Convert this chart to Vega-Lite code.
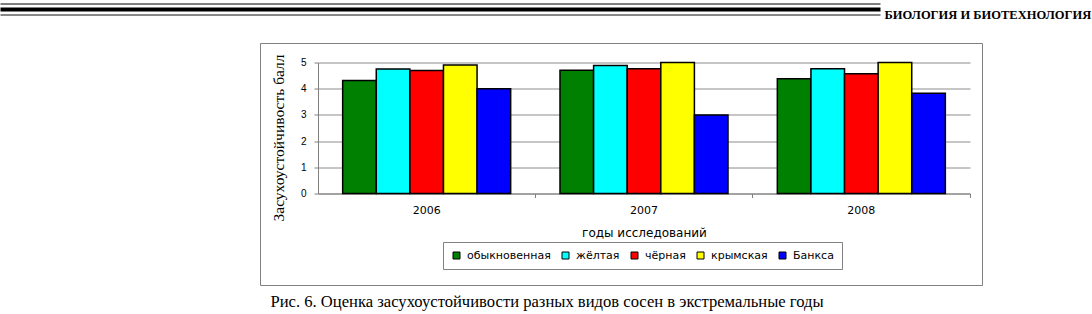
{
  "$schema": "https://vega.github.io/schema/vega-lite/v6.json",
  "width": 652,
  "height": 131,
  "autosize": {"type": "none"},
  "padding": {"left": 318, "top": 62.5, "right": 122, "bottom": 120.5},
  "background": "white",
  "config": {"view": {"stroke": null}, "axis": {"labelColor": "#000", "titleColor": "#000"}},
  "datasets": {
    "pines": [
      {"year": "2006", "species": "обыкновенная", "score": 4.31},
      {"year": "2006", "species": "жёлтая", "score": 4.75},
      {"year": "2006", "species": "чёрная", "score": 4.69},
      {"year": "2006", "species": "крымская", "score": 4.9},
      {"year": "2006", "species": "Банкса", "score": 4.0},
      {"year": "2007", "species": "обыкновенная", "score": 4.7},
      {"year": "2007", "species": "жёлтая", "score": 4.89},
      {"year": "2007", "species": "чёрная", "score": 4.76},
      {"year": "2007", "species": "крымская", "score": 5.0},
      {"year": "2007", "species": "Банкса", "score": 3.0},
      {"year": "2008", "species": "обыкновенная", "score": 4.38},
      {"year": "2008", "species": "жёлтая", "score": 4.76},
      {"year": "2008", "species": "чёрная", "score": 4.57},
      {"year": "2008", "species": "крымская", "score": 5.0},
      {"year": "2008", "species": "Банкса", "score": 3.83}
    ],
    "frame": [{"part": "frame"}]
  },
  "resolve": {
    "scale": {"x": "independent", "y": "independent"},
    "axis": {"x": "independent", "y": "independent"}
  },
  "layer": [
    {
      "data": {"name": "pines"},
      "mark": {"type": "bar", "stroke": "#000", "strokeWidth": 1.5},
      "encoding": {
        "x": {
          "field": "year", "type": "nominal",
          "scale": {"type": "band", "paddingInner": 0.227, "paddingOuter": 0.1135},
          "axis": {
            "orient": "bottom", "labelAngle": 0, "labelFont": "DejaVu Sans", "labelFontSize": 11,
            "labelPadding": 11, "ticks": false, "tickSize": 0, "grid": false,
            "domainColor": "#808080", "domainWidth": 1,
            "title": "годы исследований", "titleFont": "DejaVu Sans", "titleFontSize": 12,
            "titleFontWeight": "normal", "titleY": 42.5, "titleBaseline": "alphabetic"
          }
        },
        "xOffset": {
          "field": "species", "type": "nominal",
          "sort": ["обыкновенная", "жёлтая", "чёрная", "крымская", "Банкса"],
          "scale": {"paddingInner": 0, "paddingOuter": 0}
        },
        "y": {
          "field": "score", "type": "quantitative",
          "scale": {"domain": [0, 5], "nice": false},
          "axis": {
            "orient": "left", "values": [0, 1, 2, 3, 4, 5], "grid": true, "gridColor": "#8c8c8c",
            "domainColor": "#808080", "tickColor": "#808080", "tickSize": 4,
            "labelFont": "Liberation Sans", "labelFontSize": 10, "labelPadding": 8,
            "title": "Засухоустойчивость балл", "titleFont": "Liberation Serif", "titleFontSize": 15.5,
            "titleFontWeight": "normal", "titleX": -35, "titleY": 75, "titleAlign": "center",
            "titleBaseline": "alphabetic", "titleAngle": 270
          }
        },
        "color": {
          "field": "species", "type": "nominal",
          "scale": {
            "domain": ["обыкновенная", "жёлтая", "чёрная", "крымская", "Банкса"],
            "range": ["#008000", "#00ffff", "#ff0000", "#ffff00", "#0000ff"]
          },
          "legend": {
            "orient": "none", "legendX": 125, "legendY": 179.5, "direction": "horizontal",
            "title": null, "symbolType": "square", "symbolSize": 49,
            "symbolStrokeColor": "#000", "symbolStrokeWidth": 1,
            "labelFont": "DejaVu Sans", "labelFontSize": 11, "labelColor": "#000",
            "labelOffset": 5, "columnPadding": 9, "padding": 8,
            "strokeColor": "#808080", "fillColor": "white"
          }
        }
      }
    },
    {
      "data": {"name": "pines"},
      "mark": {"type": "point", "opacity": 0},
      "encoding": {
        "x": {
          "field": "year", "type": "nominal",
          "scale": {"type": "band", "paddingInner": 0, "paddingOuter": 0},
          "axis": {
            "orient": "bottom", "bandPosition": 1, "labels": false, "domain": false, "grid": false,
            "ticks": true, "tickSize": 4, "tickColor": "#808080",
            "title": "Рис. 6. Оценка засухоустойчивости разных видов сосен в экстремальные годы",
            "titleFont": "Liberation Serif", "titleFontSize": 16.6, "titleFontWeight": "normal",
            "titleX": -48, "titleY": 112.5, "titleAlign": "left", "titleAnchor": "start",
            "titleBaseline": "alphabetic"
          }
        }
      }
    },
    {
      "data": {"name": "frame"},
      "mark": {"type": "point", "opacity": 0},
      "encoding": {
        "x": {
          "datum": 0, "type": "quantitative",
          "scale": {"domain": [0, 1], "range": [-318, 562], "nice": false, "zero": false},
          "axis": {
            "orient": "top", "offset": 59, "domainColor": "#000", "domainWidth": 1,
            "labels": false, "ticks": false, "grid": false,
            "title": "БИОЛОГИЯ И БИОТЕХНОЛОГИЯ", "titleFont": "Liberation Serif",
            "titleFontWeight": "bold", "titleFontSize": 12.5, "titleX": 566, "titleY": 15,
            "titleAlign": "left", "titleAngle": 0, "titleBaseline": "alphabetic"
          }
        }
      }
    },
    {
      "data": {"name": "frame"},
      "mark": {"type": "point", "opacity": 0},
      "encoding": {
        "x": {
          "datum": 0, "type": "quantitative",
          "scale": {"domain": [0, 1], "range": [-318, 562], "nice": false, "zero": false},
          "axis": {
            "orient": "top", "offset": 53.5, "domainColor": "#000", "domainWidth": 4,
            "labels": false, "ticks": false, "grid": false, "title": null
          }
        }
      }
    },
    {
      "data": {"name": "frame"},
      "mark": {"type": "point", "opacity": 0},
      "encoding": {
        "x": {
          "datum": 0, "type": "quantitative",
          "scale": {"domain": [0, 1], "range": [-318, 562], "nice": false, "zero": false},
          "axis": {
            "orient": "top", "offset": 48, "domainColor": "#888888", "domainWidth": 2,
            "labels": false, "ticks": false, "grid": false, "title": null
          }
        }
      }
    },
    {
      "data": {"name": "frame"},
      "mark": {"type": "point", "opacity": 0},
      "encoding": {
        "x": {
          "datum": 0, "type": "quantitative",
          "scale": {"domain": [0, 1], "range": [-58, 664], "nice": false, "zero": false},
          "axis": {
            "orient": "top", "offset": 19.5, "domainColor": "#808080", "domainWidth": 1,
            "labels": false, "ticks": false, "grid": false, "title": null
          }
        },
        "y": {
          "datum": 0, "type": "quantitative",
          "scale": {"domain": [0, 1], "range": [222.5, -19.5], "nice": false, "zero": false},
          "axis": {
            "orient": "left", "offset": 58, "domainColor": "#808080", "domainWidth": 1,
            "labels": false, "ticks": false, "grid": false, "title": null
          }
        }
      }
    },
    {
      "data": {"name": "frame"},
      "mark": {"type": "point", "opacity": 0},
      "encoding": {
        "x": {
          "datum": 0, "type": "quantitative",
          "scale": {"domain": [0, 1], "range": [-58, 664], "nice": false, "zero": false},
          "axis": {
            "orient": "bottom", "offset": 91.5, "domainColor": "#808080", "domainWidth": 1,
            "labels": false, "ticks": false, "grid": false, "title": null
          }
        },
        "y": {
          "datum": 0, "type": "quantitative",
          "scale": {"domain": [0, 1], "range": [222.5, -19.5], "nice": false, "zero": false},
          "axis": {
            "orient": "right", "offset": 12, "domainColor": "#808080", "domainWidth": 1,
            "labels": false, "ticks": false, "grid": false, "title": null
          }
        }
      }
    }
  ]
}
